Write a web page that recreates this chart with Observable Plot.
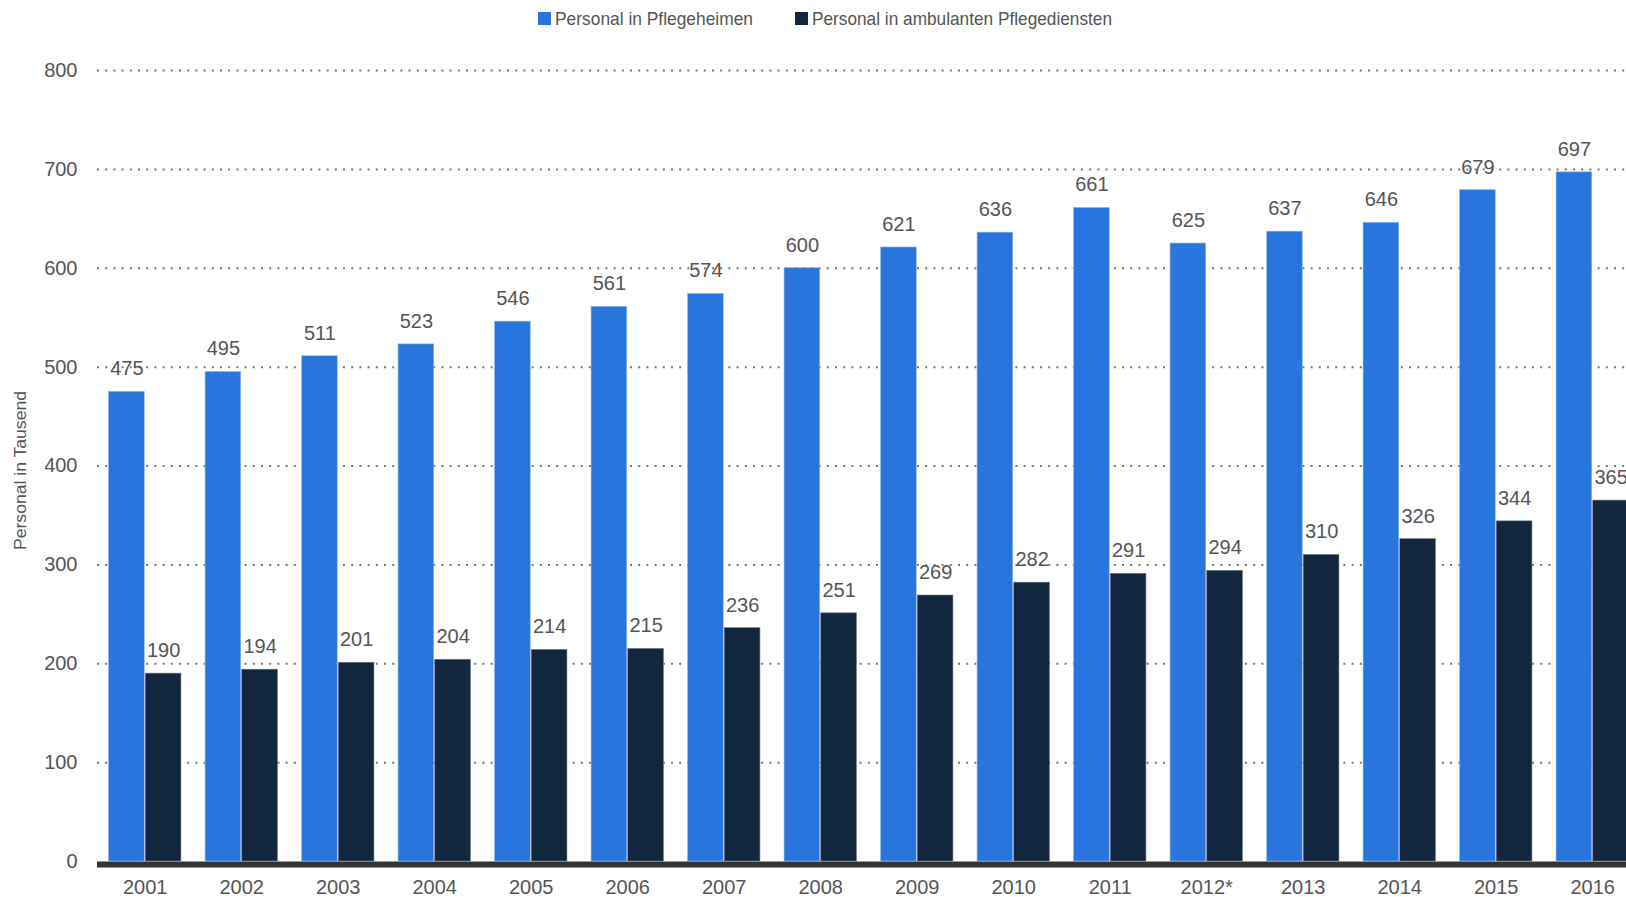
<!DOCTYPE html>
<html>
<head>
<meta charset="utf-8">
<script src="https://cdn.jsdelivr.net/npm/d3@7"></script>
<script src="https://cdn.jsdelivr.net/npm/@observablehq/plot@0.6"></script>
<style>
  html, body { margin: 0; padding: 0; background: #fff; overflow: hidden; width: 1626px; height: 897px; }
  #legend { position: relative; height: 40px; font-family: "Liberation Sans", Arial, sans-serif; font-size: 19px; color: #555; }
  .item { position: absolute; top: 8px; height: 22px; }
  .sw { position: absolute; top: 4px; left: 0; width: 13px; height: 13px; }
  .lt { position: absolute; top: 0; left: 17px; white-space: nowrap; transform-origin: 0 0; line-height: 21px; }
  #chart svg { overflow: hidden; display: block; }
</style>
</head>
<body>
<div id="legend"></div>
<div id="chart"></div>
<script>
const years = ["2001","2002","2003","2004","2005","2006","2007","2008","2009","2010","2011","2012*","2013","2014","2015","2016"];
const pflegeheime = [475,495,511,523,546,561,574,600,621,636,661,625,637,646,679,697];
const ambulant = [190,194,201,204,214,215,236,251,269,282,291,294,310,326,344,365];
const seriesNames = ["Personal in Pflegeheimen", "Personal in ambulanten Pflegediensten"];
const colors = ["#2876dd", "#12273d"];
const yTicks = [0,100,200,300,400,500,600,700,800];

// legend (condensed look via horizontal scaling)
const legend = document.getElementById("legend");
const legendX = [538, 795];
const legendW = [198, 300];
seriesNames.forEach((n, i) => {
  const d = document.createElement("div");
  d.className = "item";
  d.style.left = legendX[i] + "px";
  const sw = document.createElement("span");
  sw.className = "sw";
  sw.style.background = colors[i];
  const t = document.createElement("span");
  t.className = "lt";
  t.textContent = n;
  d.appendChild(sw);
  d.appendChild(t);
  legend.appendChild(d);
  const w = t.getBoundingClientRect().width;
  t.style.transform = `scaleX(${legendW[i] / w})`;
});

const dataA = years.map((y, i) => ({year: y, value: pflegeheime[i]}));
const dataB = years.map((y, i) => ({year: y, value: ambulant[i]}));

const x0 = 96.5, x1 = 1640.5;
const step = (x1 - x0) / years.length;
const bw = step * 0.75;
const half = bw / 2;

const chart = Plot.plot({
  width: 1626,
  height: 857,
  marginTop: 30,
  marginBottom: 36,
  marginLeft: 97,
  marginRight: 0,
  style: {fontFamily: "'Liberation Sans', Arial, sans-serif", fontSize: "20px", color: "#555", background: "#fff"},
  x: {domain: years, range: [x0, x1], paddingInner: 0.25, paddingOuter: 0.125, align: 0.5, round: false},
  y: {domain: [0, 800], ticks: yTicks},
  marks: [
    Plot.ruleY(yTicks.filter(d => d > 0), {stroke: "#777", strokeWidth: 2, strokeDasharray: "2,6.2"}),
    Plot.axisY({ticks: yTicks, tickSize: 0, tickPadding: 20, label: null, fontSize: 20, fill: "#555"}),
    Plot.axisX({tickSize: 0, tickPadding: 18, label: null, fontSize: 20, fill: "#555"}),
    Plot.barY(dataA, {x: "year", y: "value", fill: colors[0], insetRight: half + 0.5, stroke: "#8fb8ee", strokeWidth: 0.6}),
    Plot.barY(dataB, {x: "year", y: "value", fill: colors[1], insetLeft: half + 0.5, stroke: "#6b7a8c", strokeWidth: 0.6}),
    Plot.text(dataA, {x: "year", y: "value", text: d => String(d.value), dx: -half / 2 - 0.25, dy: -23, fill: "#555", fontSize: 20}),
    Plot.text(dataB, {x: "year", y: "value", text: d => String(d.value), dx: half / 2 + 0.25, dy: -23, fill: "#555", fontSize: 20}),
    Plot.ruleY([0], {stroke: "#333", strokeWidth: 6, dy: 3}),
    Plot.text(["Personal in Tausend"], {frameAnchor: "left", dx: -77, dy: 4, rotate: -90, fill: "#555", fontSize: 16, className: "ytitle"})
  ]
});
document.getElementById("chart").appendChild(chart);
// condensed y-axis title, centred on the frame
const yt = chart.querySelector(".ytitle text");
if (yt) {
  yt.setAttribute("text-anchor", "start");
  yt.setAttribute("x", "-80");
  yt.setAttribute("textLength", "159");
  yt.setAttribute("lengthAdjust", "spacingAndGlyphs");
}
</script>
</body>
</html>
